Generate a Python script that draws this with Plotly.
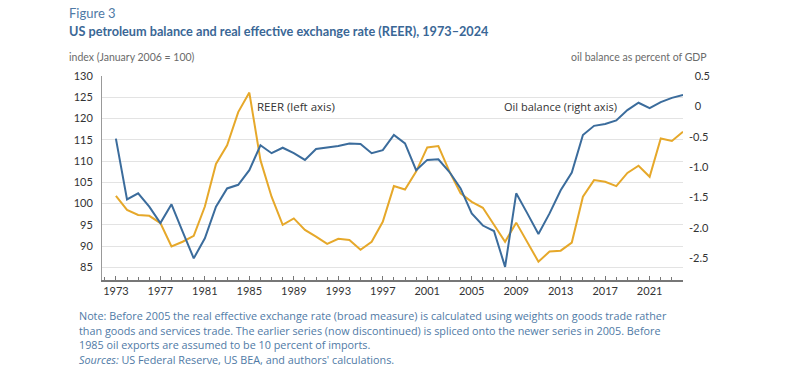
import plotly.graph_objects as go

years = list(range(1973, 2025))
reer = [101.8, 98.5, 97.3, 97.1, 95.4, 89.9, 91.0, 92.4, 99.3, 109.3,
        113.7, 121.5, 126.1, 110.2, 101.6, 95.0, 96.5, 93.8, 92.2, 90.5,
        91.7, 91.4, 89.1, 91.0, 95.7, 104.1, 103.3, 107.5, 113.2, 113.5,
        107.5, 102.4, 100.4, 99.0, 95.0, 91.0, 95.5, 91.0, 86.3, 88.7,
        88.9, 90.8, 101.6, 105.5, 105.1, 104.1, 107.2, 108.9, 106.3, 115.3,
        114.7, 116.9]
oil = [-0.53, -1.53, -1.43, -1.65, -1.92, -1.61, -2.06, -2.50, -2.17, -1.65,
       -1.35, -1.29, -1.05, -0.64, -0.77, -0.68, -0.77, -0.88, -0.70, -0.68,
       -0.65, -0.61, -0.62, -0.77, -0.72, -0.47, -0.61, -1.05, -0.88, -0.87,
       -1.08, -1.35, -1.76, -1.96, -2.05, -2.64, -1.43, -1.76, -2.10, -1.76,
       -1.38, -1.09, -0.47, -0.32, -0.29, -0.23, -0.06, 0.06, -0.03, 0.07,
       0.14, 0.19]

left_ticks = [85, 90, 95, 100, 105, 110, 115, 120, 125, 130]
right_ticks = [0.5, 0, -0.5, -1.0, -1.5, -2.0, -2.5]
right_text = ["\u00a0\u00a00.5", "\u00a0\u00a00", "-0.5", "-1.0", "-1.5", "-2.0", "-2.5"]
x_ticks = list(range(1973, 2022, 4))

note_lines = [
    "Note: Before 2005 the real effective exchange rate (broad measure) is calculated using weights on goods trade rather",
    "than goods and services trade. The earlier series (now discontinued) is spliced onto the newer series in 2005. Before",
    "1985 oil exports are assumed to be 10 percent of imports.",
    "<i>Sources:</i> US Federal Reserve, US BEA, and authors' calculations.",
]

W, H = 807, 367
L, R, T, B = 102, 683, 75.7, 280

def px(x):
    return (x - L) / (R - L)

def py(y):
    return (B - y) / (B - T)

FONT = "Lato"
FONT2 = "Open Sans"
ORANGE = "#e6a82a"
BLUE = "#3b6c9c"
TITLE_BLUE = "#3a6796"
NOTE_BLUE = "#4f7aa6"

fig = go.Figure()
fig.add_trace(go.Scatter(x=years, y=reer, mode="lines", name="REER",
                         line=dict(color=ORANGE, width=2), yaxis="y"))
fig.add_trace(go.Scatter(x=years, y=oil, mode="lines", name="Oil balance",
                         line=dict(color=BLUE, width=2), yaxis="y2"))

annotations = [
    dict(text="Figure 3", x=px(67), y=py(13), xanchor="left", yanchor="middle",
         font=dict(size=13, color=NOTE_BLUE, family=FONT)),
    dict(text="<b>US petroleum balance and real effective exchange rate (REER), 1973\u20132024</b>",
         x=px(67), y=py(31), xanchor="left", yanchor="middle",
         font=dict(size=12.7, color=TITLE_BLUE, family=FONT)),
    dict(text="index (January 2006 = 100)", x=px(67), y=py(57), xanchor="left", yanchor="middle",
         font=dict(size=10.5, color="#6b6b6b", family=FONT)),
    dict(text="oil balance as percent of GDP", x=px(709), y=py(57), xanchor="right", yanchor="middle",
         font=dict(size=10.5, color="#6b6b6b", family=FONT)),
    dict(text="REER (left axis)", x=px(255), y=py(106.5), xanchor="left", yanchor="middle",
         font=dict(size=11.5, color="#333333", family=FONT2)),
    dict(text="Oil balance (right axis)", x=px(501.5), y=py(106.5), xanchor="left", yanchor="middle",
         font=dict(size=11, color="#333333", family=FONT2)),
]
for line, yy in zip(note_lines, [316, 330.5, 345, 359.5]):
    annotations.append(dict(text=line, x=px(77), y=py(yy), xanchor="left", yanchor="middle",
                            align="left", font=dict(size=10.8, color=NOTE_BLUE, family=FONT2)))
for a in annotations:
    a.update(xref="paper", yref="paper", showarrow=False)

fig.update_layout(
    width=W, height=H,
    margin=dict(l=L, r=W - R, t=T, b=H - B, pad=0),
    paper_bgcolor="white", plot_bgcolor="white",
    showlegend=False,
    font=dict(family=FONT, size=11, color="#333333"),
    annotations=annotations,
    xaxis=dict(range=[1971.75, 2024], tickmode="array", tickvals=x_ticks,
               ticktext=[str(v) for v in x_ticks],
               ticks="inside", ticklen=4, tickcolor="#777777", tickwidth=1,
               minor=dict(dtick=1, tick0=1973, ticks="inside", ticklen=3, tickcolor="#777777"),
               showline=True, linecolor="#777777", linewidth=1.5,
               showgrid=False, zeroline=False,
               tickfont=dict(size=11, color="#333333", family=FONT)),
    yaxis=dict(range=[82, 130], tickmode="array", tickvals=left_ticks,
               ticks="", showline=True, linecolor="#999999", linewidth=1,
               gridcolor="#e3e3e3", gridwidth=1, zeroline=False,
               ticklabelstandoff=6,
               tickfont=dict(size=11, color="#333333", family=FONT)),
    yaxis2=dict(range=[-2.856, 0.5], tickmode="array", tickvals=right_ticks,
                ticktext=right_text, overlaying="y", side="right",
                showgrid=False, zeroline=False, showline=False, ticks="",
                ticklabelstandoff=5,
                tickfont=dict(size=11, color="#333333", family=FONT)),
)

fig.write_html("out.html", config={"displayModeBar": False},
               post_script="document.body.style.margin='0';document.body.style.overflow='hidden';")
